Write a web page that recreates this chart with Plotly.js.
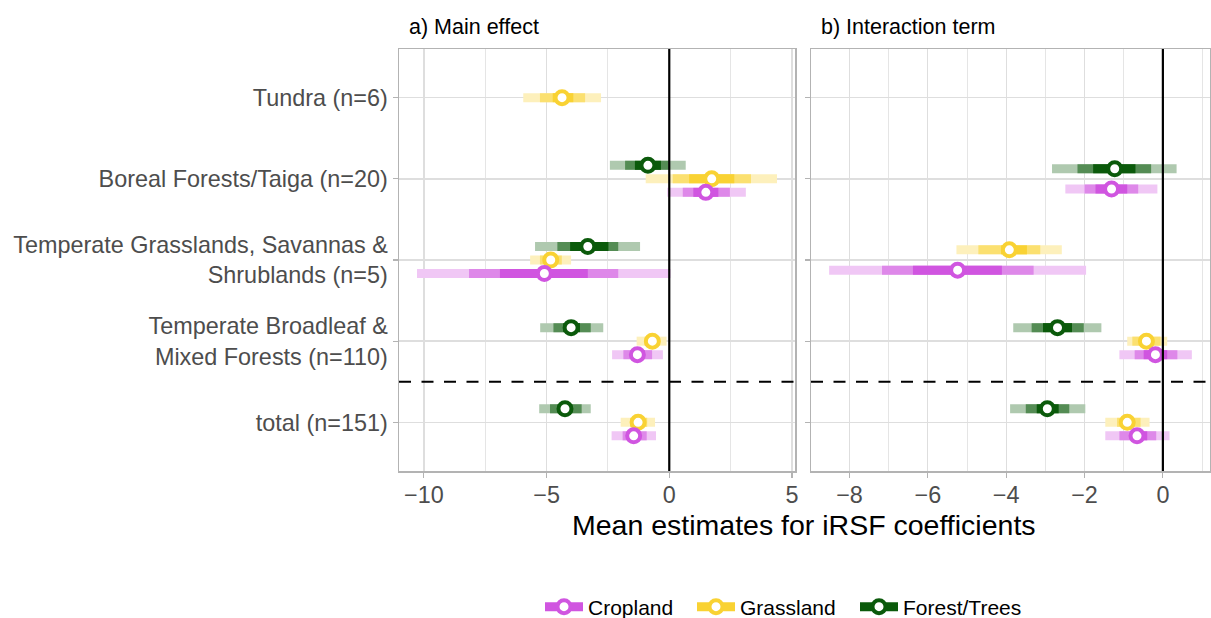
<!DOCTYPE html>
<html><head><meta charset="utf-8">
<script src="https://cdn.plot.ly/plotly-3.0.1.min.js"></script>
<style>html,body{margin:0;padding:0;background:#fff}#chart{width:1211px;height:618px}</style>
</head><body><div id="chart"></div>
<script>
// categories, bottom to top
const categories = ["total (n=151)", "Temperate Broadleaf &<br>Mixed Forests (n=110)", "Temperate Grasslands, Savannas &<br>Shrublands (n=5)", "Boreal Forests/Taiga (n=20)", "Tundra (n=6)"];
const seriesNames = ["Forest/Trees", "Grassland", "Cropland"];
const legendOrder = ["Cropland", "Grassland", "Forest/Trees"];
const panelTitles = ["a) Main effect", "b) Interaction term"];
const xTitle = "Mean estimates for iRSF coefficients";

// a) Main effect
const mainForestMean = [-4.25, -4.00, -3.32, -0.87, null];
const mainForestLo95 = [-5.30, -5.26, -5.47, -2.42, null];
const mainForestHi95 = [-3.20, -2.69, -1.19, 0.67, null];
const mainForestLo80 = [-4.86, -4.72, -4.56, -1.80, null];
const mainForestHi80 = [-3.57, -3.20, -2.08, 0.00, null];
const mainForestLo50 = [-4.55, -4.32, -4.04, -1.40, null];
const mainForestHi50 = [-3.95, -3.64, -2.48, -0.34, null];

const mainGrassMean = [-1.27, -0.69, -4.83, 1.73, -4.37];
const mainGrassLo95 = [-1.98, -1.33, -5.67, -0.96, -5.95];
const mainGrassHi95 = [-0.58, -0.11, -4.00, 4.39, -2.78];
const mainGrassLo80 = [-1.60, -1.00, -5.27, 0.14, -5.27];
const mainGrassHi80 = [-0.90, -0.40, -4.38, 3.33, -3.43];
const mainGrassLo50 = [-1.45, -0.85, -5.05, 0.81, -4.75];
const mainGrassHi50 = [-1.10, -0.55, -4.60, 2.65, -3.91];

const mainCropMean = [-1.45, -1.30, -5.09, 1.49, null];
const mainCropLo95 = [-2.35, -2.33, -10.28, -0.08, null];
const mainCropHi95 = [-0.54, -0.26, 0.05, 3.12, null];
const mainCropLo80 = [-1.90, -1.87, -8.16, 0.55, null];
const mainCropHi80 = [-0.92, -0.70, -2.08, 2.47, null];
const mainCropLo50 = [-1.65, -1.55, -6.90, 0.98, null];
const mainCropHi50 = [-1.20, -1.00, -3.32, 2.00, null];

// b) Interaction term
const intForestMean = [-2.95, -2.69, null, -1.23, null];
const intForestLo95 = [-3.90, -3.82, null, -2.83, null];
const intForestHi95 = [-1.98, -1.57, null, 0.35, null];
const intForestLo80 = [-3.50, -3.35, null, -2.18, null];
const intForestHi80 = [-2.39, -2.02, null, -0.30, null];
const intForestLo50 = [-3.22, -3.06, null, -1.78, null];
const intForestHi50 = [-2.66, -2.32, null, -0.70, null];

const intGrassMean = [-0.91, -0.42, -3.92, null, null];
const intGrassLo95 = [-1.47, -0.91, -5.27, null, null];
const intGrassHi95 = [-0.34, 0.11, -2.58, null, null];
const intGrassLo80 = [-1.17, -0.78, -4.71, null, null];
const intGrassHi80 = [-0.57, -0.06, -3.13, null, null];
const intGrassLo50 = [-1.05, -0.60, -4.13, null, null];
const intGrassHi50 = [-0.75, -0.25, -3.47, null, null];

const intCropMean = [-0.66, -0.19, -5.24, -1.31, null];
const intCropLo95 = [-1.47, -1.11, -8.52, -2.49, null];
const intCropHi95 = [0.17, 0.74, -1.96, -0.14, null];
const intCropLo80 = [-1.11, -0.72, -7.17, -2.00, null];
const intCropHi80 = [-0.17, 0.37, -3.30, -0.63, null];
const intCropLo50 = [-0.83, -0.49, -6.38, -1.72, null];
const intCropHi50 = [-0.40, 0.11, -4.11, -0.91, null];

const colors = {
  "Cropland":     {full: "#D055E0", mid: "#DE88E9", light: "#F0C7F5"},
  "Grassland":    {full: "#F9D233", mid: "#FBE070", light: "#FDF0BC"},
  "Forest/Trees": {full: "#0B5A0B", mid: "#548C54", light: "#AFC9AF"}
};

const FONT = "Liberation Sans, Arial, sans-serif";

const panels = [
  {xa: "x", ya: "y", series: {
    "Forest/Trees": [mainForestMean, mainForestLo95, mainForestHi95, mainForestLo80, mainForestHi80, mainForestLo50, mainForestHi50],
    "Grassland":    [mainGrassMean, mainGrassLo95, mainGrassHi95, mainGrassLo80, mainGrassHi80, mainGrassLo50, mainGrassHi50],
    "Cropland":     [mainCropMean, mainCropLo95, mainCropHi95, mainCropLo80, mainCropHi80, mainCropLo50, mainCropHi50]}},
  {xa: "x2", ya: "y2", series: {
    "Forest/Trees": [intForestMean, intForestLo95, intForestHi95, intForestLo80, intForestHi80, intForestLo50, intForestHi50],
    "Grassland":    [intGrassMean, intGrassLo95, intGrassHi95, intGrassLo80, intGrassHi80, intGrassLo50, intGrassHi50],
    "Cropland":     [intCropMean, intCropLo95, intCropHi95, intCropLo80, intCropHi80, intCropLo50, intCropHi50]}}
];

const DODGE = 0.5;
const bandTraces = [], pointTraces = [];
const ranges = [];

panels.forEach(p => {
  const pos = {};
  seriesNames.forEach(s => pos[s] = []);
  categories.forEach((c, i) => {
    const present = seriesNames.filter(s => p.series[s][0][i] !== null);
    const n = present.length;
    seriesNames.forEach(s => {
      const k = present.indexOf(s);
      pos[s][i] = k < 0 ? null : (i + 1) + ((n - 1) / 2 - k) * DODGE / n;
    });
  });
  let mn = Infinity, mx = -Infinity;
  const levels = [[1, 2, "light"], [3, 4, "mid"], [5, 6, "full"]];
  levels.forEach(([li, hi, shade]) => {
    seriesNames.forEach(s => {
      const d = p.series[s];
      const xs = [], ys = [];
      categories.forEach((c, i) => {
        if (d[li][i] === null) return;
        xs.push(d[li][i], d[hi][i], null);
        ys.push(pos[s][i], pos[s][i], null);
        mn = Math.min(mn, d[li][i]); mx = Math.max(mx, d[hi][i]);
      });
      bandTraces.push({type: "scatter", mode: "lines", x: xs, y: ys, xaxis: p.xa, yaxis: p.ya,
        line: {color: colors[s][shade], width: 9}, showlegend: false, hoverinfo: "skip"});
    });
  });
  seriesNames.forEach(s => {
    pointTraces.push({type: "scatter", mode: "markers", x: p.series[s][0], y: pos[s], xaxis: p.xa, yaxis: p.ya,
      marker: {symbol: "circle", size: 13, color: "#ffffff", line: {color: colors[s].full, width: 4}},
      showlegend: false, name: s});
  });
  const span = mx - mn;
  ranges.push([mn - 0.05 * span, mx + 0.05 * span]);
});

const legendIds = ["legend", "legend2", "legend3"];
const legendTraces = legendOrder.map((s, k) => ({type: "scatter", mode: "lines+markers", x: [null], y: [null],
  xaxis: "x", yaxis: "y", name: s, showlegend: true, legend: legendIds[k],
  line: {color: colors[s].full, width: 9},
  marker: {symbol: "circle", size: 13, color: "#ffffff", line: {color: colors[s].full, width: 4}}}));

const W = 1211, H = 618;
const yDom = [(H - 471) / H, (H - 49) / H];
const common = {
  showgrid: true, gridcolor: "#dedede", gridwidth: 1.3, zeroline: false,
  showline: true, mirror: true, linecolor: "#b3b3b3", linewidth: 1.5,
  ticks: "outside", ticklen: 5, tickwidth: 1.2, tickcolor: "#b3b3b3",
  tickfont: {family: FONT, size: 23.4, color: "#4d4d4d"}, fixedrange: true
};

function legendBox(xStart) {
  return {orientation: "h", x: xStart / W, xanchor: "left", y: (H - 607) / H, yanchor: "middle",
    itemwidth: 38, font: {family: FONT, size: 21, color: "#000000"}, bgcolor: "rgba(0,0,0,0)", borderwidth: 0};
}

const layout = {
  width: W, height: H, margin: {l: 0, r: 0, t: 0, b: 0, autoexpand: false},
  paper_bgcolor: "#ffffff", plot_bgcolor: "#ffffff",
  font: {family: FONT, color: "#000000"},
  showlegend: true,
  legend: legendBox(540), legend2: legendBox(692), legend3: legendBox(855),
  xaxis: Object.assign({}, common, {domain: [399 / W, 795 / W], range: ranges[0], anchor: "y",
    ticklabelstandoff: -3,
    tick0: 0, dtick: 5, minor: {tick0: 0, dtick: 2.5, showgrid: true, gridcolor: "#dedede", gridwidth: 0.8}}),
  xaxis2: Object.assign({}, common, {domain: [811 / W, 1210 / W], range: ranges[1], anchor: "y2",
    ticklabelstandoff: -3,
    tick0: 0, dtick: 2, minor: {tick0: 0, dtick: 1, showgrid: true, gridcolor: "#dedede", gridwidth: 0.8}}),
  yaxis: Object.assign({}, common, {domain: yDom, range: [0.4, 5.6], anchor: "x",
    tickvals: categories.map((c, i) => i + 1), ticktext: categories}),
  yaxis2: Object.assign({}, common, {domain: yDom, range: [0.4, 5.6], anchor: "x2",
    tickvals: categories.map((c, i) => i + 1), showticklabels: false}),
  shapes: [
    {type: "line", xref: "x", yref: "y domain", x0: 0, x1: 0, y0: 0, y1: 1, line: {color: "#000", width: 2.2}, layer: "above"},
    {type: "line", xref: "x2", yref: "y2 domain", x0: 0, x1: 0, y0: 0, y1: 1, line: {color: "#000", width: 2.2}, layer: "above"},
    {type: "line", xref: "x domain", yref: "y", x0: 0, x1: 1, y0: 1.5, y1: 1.5, line: {color: "#000", width: 2.2, dash: "12px,10.5px"}, layer: "above"},
    {type: "line", xref: "x2 domain", yref: "y2", x0: 0, x1: 1, y0: 1.5, y1: 1.5, line: {color: "#000", width: 2.2, dash: "12px,10.5px"}, layer: "above"}
  ],
  annotations: [
    {text: panelTitles[0], xref: "paper", yref: "paper", x: 407 / W, y: (H - 27) / H, xanchor: "left", yanchor: "middle",
      showarrow: false, font: {family: FONT, size: 21.5, color: "#000"}},
    {text: panelTitles[1], xref: "paper", yref: "paper", x: 819 / W, y: (H - 27) / H, xanchor: "left", yanchor: "middle",
      showarrow: false, font: {family: FONT, size: 21.5, color: "#000"}},
    {text: xTitle, xref: "paper", yref: "paper", x: 804 / W, y: (H - 525) / H, xanchor: "center", yanchor: "middle",
      showarrow: false, font: {family: FONT, size: 28.5, color: "#000"}}
  ]
};

Plotly.newPlot("chart", bandTraces.concat(pointTraces, legendTraces), layout, {displayModeBar: false, staticPlot: true});
</script>
</body></html>
